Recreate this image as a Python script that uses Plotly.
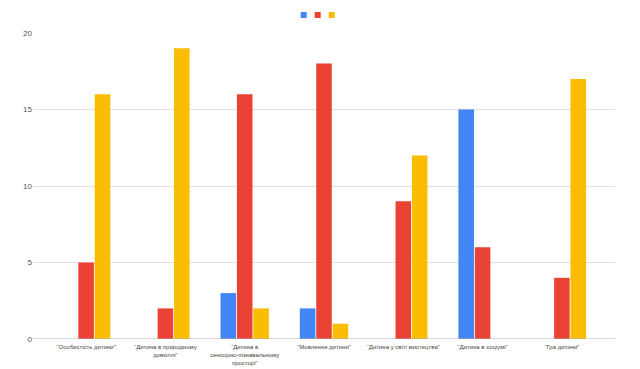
import plotly.graph_objects as go

categories = [
    "“Особистість дитини”",
    "“Дитина в природному<br>довкіллі”",
    "“Дитина в<br>сенсорно-пізнавальному<br>просторі”",
    "“Мовлення дитини”",
    "“Дитина у світі мистецтва”",
    "“Дитина в соціумі”",
    "“Гра дитини”",
]
blue_values = [0, 0, 3, 2, 0, 15, 0]
red_values = [5, 2, 16, 18, 9, 6, 4]
yellow_values = [16, 19, 2, 1, 12, 0, 17]
y_ticks = [0, 5, 10, 15, 20]

colors = ["#4285F4", "#EA4335", "#FBBC04"]

fig = go.Figure()
for vals, c in zip([blue_values, red_values, yellow_values], colors):
    fig.add_trace(go.Bar(x=categories, y=vals, marker=dict(color=c, line=dict(width=0)),
                         showlegend=False))

# page offset from default body margin
OFF = 8
W, H = 632, 361
PL, PR, PT, PB = 33, 615, 33, 339  # plot edges in page pixels
L = PL - OFF
T = PT - OFF
R = W - (PR - OFF)
B = H - (PB - OFF)
pw = PR - PL
ph = PB - PT

def px_x(p):
    return (p - PL) / pw

def px_y(p):
    return (PB - p) / ph

shapes = []
# legend squares
for i, c in enumerate(colors):
    x0 = 300.7 + 14 * i
    shapes.append(dict(type="rect", xref="paper", yref="paper",
                       x0=px_x(x0), x1=px_x(x0 + 6), y0=px_y(18), y1=px_y(12),
                       fillcolor=c, line=dict(width=0)))
# right-edge strip
shapes.append(dict(type="line", xref="paper", yref="paper",
                   x0=px_x(636), x1=px_x(636), y0=px_y(OFF), y1=px_y(369),
                   line=dict(color="#e6e6e6", width=1)))
k = 0
while 3 + 11.15 * k < 369:
    yy = 3 + 11.15 * k
    if yy >= OFF:
        shapes.append(dict(type="line", xref="paper", yref="paper",
                           x0=px_x(636), x1=px_x(640), y0=px_y(yy), y1=px_y(yy),
                           line=dict(color="#e0e0e0", width=1)))
    k += 1
# zero baseline
shapes.append(dict(type="line", xref="paper", yref="y", x0=0, x1=1, y0=0, y1=0,
                   line=dict(color="#b0b0b0", width=1)))

fig.update_layout(
    width=W, height=H,
    margin=dict(l=L, r=R, t=T, b=B),
    paper_bgcolor="white", plot_bgcolor="white",
    barmode="group", bargap=0.38, bargroupgap=0.05,
    font=dict(family="Liberation Sans, Arial, sans-serif", color="#555555"),
    xaxis=dict(range=[-0.67, 6.67], showgrid=False, showline=False, zeroline=False,
               tickfont=dict(size=6, color="#444444"), ticks="", automargin=False,
               tickangle=0, ticklabelstandoff=3),
    yaxis=dict(range=[0, 20], tickvals=y_ticks, showgrid=True, gridcolor="#e0e0e0",
               zeroline=False, showline=False, tickfont=dict(size=8, color="#555555"),
               ticks="", automargin=False),
    shapes=shapes,
    showlegend=False,
)

fig.write_html("out.html")
